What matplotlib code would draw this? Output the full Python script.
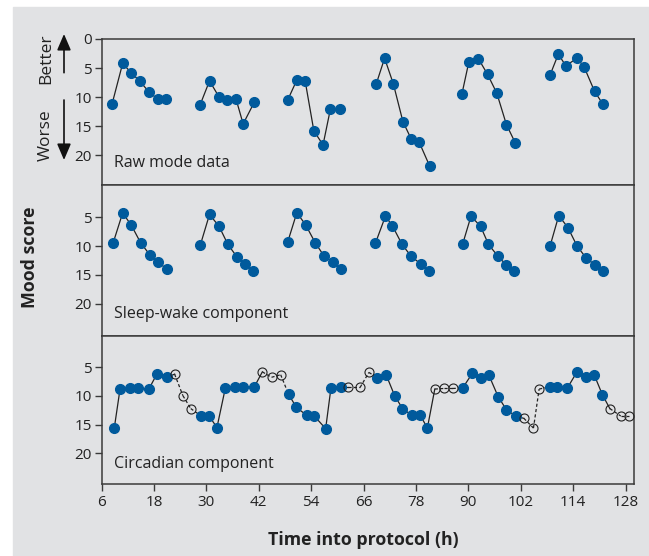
import numpy as np
import matplotlib
matplotlib.use("Agg")
import matplotlib.pyplot as plt
from matplotlib.patches import Rectangle, FancyArrowPatch

# data (time in h, mood score)
raw_t = [8.4, 10.8, 12.8, 14.8, 16.8, 18.8, 20.8,
         28.5, 30.7, 32.9, 34.7, 36.8, 38.4, 41.0,
         48.6, 50.7, 52.6, 54.6, 56.7, 58.4, 60.5,
         68.9, 70.8, 72.8, 75.0, 76.9, 78.7, 81.1,
         88.5, 90.1, 92.3, 94.4, 96.5, 98.7, 100.7,
         108.7, 110.6, 112.3, 114.9, 116.5, 118.9, 120.8]
raw_v = [11.1, 4.2, 5.85, 7.3, 9.1, 10.3, 10.4,
         11.4, 7.2, 10.0, 10.5, 10.4, 14.6, 10.8,
         10.5, 7.05, 7.2, 15.8, 18.2, 12.0, 12.1,
         7.7, 3.3, 7.7, 14.2, 17.2, 17.7, 21.8,
         9.5, 3.95, 3.4, 6.1, 9.3, 14.7, 17.8,
         6.2, 2.6, 4.6, 3.3, 4.8, 9.0, 11.2]

sw_t = [8.6, 10.8, 12.8, 14.9, 17.1, 19.0, 20.9,
        28.6, 30.7, 32.9, 34.9, 37.0, 38.9, 40.7,
        48.6, 50.7, 52.7, 54.9, 56.9, 59.0, 60.8,
        68.7, 71.0, 72.6, 74.8, 76.9, 79.1, 81.0,
        88.7, 90.6, 92.8, 94.6, 96.8, 98.6, 100.5,
        108.7, 110.7, 112.8, 114.9, 117.0, 118.9, 120.8]
sw_v = [9.5, 4.25, 6.4, 9.4, 11.6, 12.8, 14.0,
        9.8, 4.5, 6.6, 9.7, 11.9, 13.1, 14.3,
        9.3, 4.2, 6.3, 9.4, 11.7, 12.8, 14.0,
        9.5, 4.8, 6.5, 9.7, 11.8, 13.1, 14.3,
        9.6, 4.8, 6.6, 9.7, 11.8, 13.2, 14.3,
        10.0, 4.7, 6.8, 10.0, 12.1, 13.2, 14.4]

circ_t = [8.9, 10.2, 12.4, 14.3, 16.8, 18.7, 20.9, 22.7, 24.6, 26.4,
          28.8, 30.6, 32.4, 34.3, 36.5, 38.4, 40.9, 42.8, 44.9, 47.0,
          48.8, 50.6, 53.0, 54.7, 57.3, 58.5, 60.8, 62.5, 65.2, 67.2,
          69.1, 71.2, 73.1, 74.9, 77.1, 79.0, 80.6, 82.3, 84.3, 86.4,
          88.7, 90.9, 92.8, 94.7, 96.8, 98.7, 100.9, 102.7, 104.9, 106.2,
          108.6, 110.4, 112.6, 114.8, 116.9, 118.8, 120.7, 122.4, 124.9, 126.8]
circ_v = [15.5, 8.8, 8.6, 8.6, 8.8, 6.1, 6.75, 6.2, 9.95, 12.2,
          13.5, 13.5, 15.5, 8.7, 8.5, 8.4, 8.5, 5.8, 6.75, 6.3,
          9.7, 12.0, 13.4, 13.5, 15.7, 8.7, 8.5, 8.5, 8.5, 5.9,
          6.8, 6.4, 9.95, 12.2, 13.4, 13.4, 15.6, 8.8, 8.7, 8.7,
          8.6, 6.05, 6.9, 6.4, 10.1, 12.4, 13.55, 13.9, 15.6, 8.8,
          8.4, 8.4, 8.7, 5.9, 6.75, 6.3, 9.8, 12.2, 13.5, 13.5]
# 1 = measured (filled), 0 = estimated (open)
circ_meas = [1, 1, 1, 1, 1, 1, 1, 0, 0, 0,
             1, 1, 1, 1, 1, 1, 1, 0, 0, 0,
             1, 1, 1, 1, 1, 1, 1, 0, 0, 0,
             1, 1, 1, 1, 1, 1, 1, 0, 0, 0,
             1, 1, 1, 1, 1, 1, 1, 0, 0, 0,
             1, 1, 1, 1, 1, 1, 1, 0, 0, 0]

x_ticks = [6, 18, 30, 42, 54, 66, 78, 90, 102, 114, 126]
x_labels = ["6", "18", "30", "42", "54", "66", "78", "90", "102", "114", "128"]

BG = "#e1e2e4"
BLUE = "#005a9c"
EDGE = "#3a3a3a"
INK = "#222222"
FONT = "Open Sans"

W, H = 649, 556
fig = plt.figure(figsize=(W / 100, H / 100), dpi=100)
fig.patch.set_facecolor("white")
fig.patches.append(Rectangle((13 / W, 0), 1 - 13 / W, 1 - 7 / H,
                             transform=fig.transFigure, color=BG, zorder=-10))
plt.rcParams["font.family"] = [FONT, "DejaVu Sans"]

x0, x1 = 101.7, 634.3
bounds = [(39, 185), (185, 336), (336, 484.3)]
ylims = [(25.1, 0), (25.6, -0.6), (25.4, -0.45)]
axes = []
for (top, bot), yl in zip(bounds, ylims):
    ax = fig.add_axes([x0 / W, 1 - bot / H, (x1 - x0) / W, (bot - top) / H])
    ax.set_facecolor(BG)
    ax.set_xlim(6, 128)
    ax.set_ylim(*yl)
    for s in ax.spines.values():
        s.set_color(EDGE)
        s.set_linewidth(1.1)
    ax.tick_params(axis="y", direction="out", length=5, width=1, color=EDGE,
                   labelsize=11, labelcolor=INK, pad=2)
    axes.append(ax)

ax_raw, ax_sw, ax_c = axes
ax_raw.set_yticks([0, 5, 10, 15, 20])
ax_sw.set_yticks([5, 10, 15, 20])
ax_c.set_yticks([5, 10, 15, 20])
for ax in (ax_raw, ax_sw):
    ax.set_xticks([])
ax_c.set_xticks(x_ticks)
ax_c.set_xticklabels(x_labels)
ax_c.tick_params(axis="x", direction="out", length=5, width=1, color=EDGE,
                 labelsize=11, labelcolor=INK, pad=3)


def plot_episodes(ax, t, v):
    t = np.asarray(t)
    v = np.asarray(v)
    cuts = np.where(np.diff(t) > 5)[0] + 1
    for tt, vv in zip(np.split(t, cuts), np.split(v, cuts)):
        ax.plot(tt, vv, color=INK, lw=0.9, zorder=2)
        ax.plot(tt, vv, "o", ms=7, color=BLUE, mec=BLUE, zorder=3)


plot_episodes(ax_raw, raw_t, raw_v)
plot_episodes(ax_sw, sw_t, sw_v)

# circadian: segment style follows its starting point
ct = np.asarray(circ_t)
cv = np.asarray(circ_v)
cm = np.asarray(circ_meas, dtype=bool)
for i in range(len(ct) - 1):
    ls = "-" if cm[i] else (0, (2.5, 1.8))
    ax_c.plot(ct[i:i + 2], cv[i:i + 2], color=INK, lw=0.9, ls=ls, zorder=2)
ax_c.plot(ct[cm], cv[cm], "o", ms=7, color=BLUE, mec=BLUE, lw=0, zorder=3)
ax_c.plot(ct[~cm], cv[~cm], "o", ms=6.5, mfc="none", mec=INK, mew=0.8,
          lw=0, zorder=3)

txt = dict(fontsize=11.5, color=INK, va="center", ha="left")
fig.text(114 / W, 1 - 163 / H, "Raw mode data", **txt)
fig.text(114 / W, 1 - 313.5 / H, "Sleep-wake component", **txt)
fig.text(114 / W, 1 - 464 / H, "Circadian component", **txt)

fig.text(30 / W, 1 - 257 / H, "Mood score", rotation=90, fontsize=12.8,
         fontweight="bold", color=INK, ha="center", va="center")
fig.text(363 / W, 1 - 540 / H, "Time into protocol (h)", fontsize=12.8,
         fontweight="bold", color=INK, ha="center", va="center")

fig.text(46 / W, 1 - 58.5 / H, "Better", rotation=90, fontsize=12.5,
         color=INK, ha="center", va="center")
fig.text(46 / W, 1 - 135.5 / H, "Worse", rotation=90, fontsize=12.5,
         color=INK, ha="center", va="center")
for ya, yb in [(72.7, 34), (100, 160)]:
    fig.add_artist(FancyArrowPatch((64 / W, 1 - ya / H), (64 / W, 1 - yb / H),
                                   transform=fig.transFigure,
                                   arrowstyle="-|>,head_length=0.7,head_width=0.3",
                                   mutation_scale=14, lw=1.2, color="#111111",
                                   shrinkA=0, shrinkB=0))

fig.savefig("out.png", dpi=100, facecolor=fig.get_facecolor())
